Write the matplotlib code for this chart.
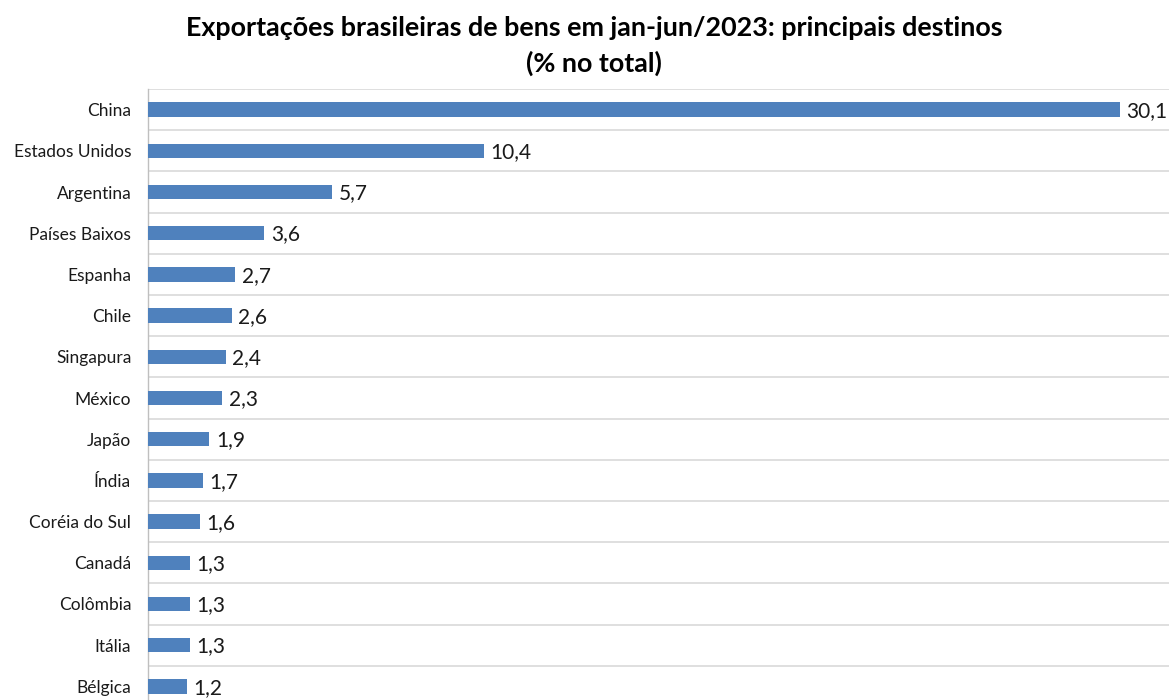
import numpy as np
import matplotlib

matplotlib.use("Agg")
import matplotlib.pyplot as plt
from matplotlib.ticker import FixedLocator

plt.rcParams["font.family"] = ["Lato", "DejaVu Sans"]

PAISES = [
    "China", "Estados Unidos", "Argentina", "Países Baixos", "Espanha",
    "Chile", "Singapura", "México", "Japão", "Índia", "Coréia do Sul",
    "Canadá", "Colômbia", "Itália", "Bélgica",
]
PARTICIPACAO = [30.1, 10.4, 5.7, 3.6, 2.7, 2.6, 2.4, 2.3, 1.9, 1.7, 1.6, 1.3, 1.3, 1.3, 1.2]

BAR_COLOR = "#4F81BD"
GRID_COLOR = "#D9D9D9"


def fmt(v):
    return f"{v:.1f}".replace(".", ",")


def main():
    fig = plt.figure(figsize=(11.69, 7.0), dpi=100)
    # axes runs off the bottom/right edge, like the cropped original
    ax = fig.add_axes([148 / 1169, 1 - 707 / 700, 1 - 148 / 1169, (707 - 89) / 700])

    y = np.arange(len(PAISES))
    ax.barh(y, PARTICIPACAO, height=0.35, color=BAR_COLOR, zorder=3)
    for yi, v in zip(y, PARTICIPACAO):
        ax.text(v + 0.2, yi + 0.03, fmt(v), va="center", ha="left", fontsize=15,
                color="#1a1a1a", zorder=4)

    ax.set_xlim(0, 1021 / (972 / 30.1))
    ax.set_ylim(len(PAISES) - 0.5, -0.5)
    ax.set_yticks(y)
    ax.set_yticklabels(PAISES, fontsize=12.5, color="#1a1a1a")
    ax.yaxis.set_minor_locator(FixedLocator(np.arange(-0.5, len(PAISES), 1.0)))
    ax.tick_params(axis="y", which="both", length=0, pad=12)
    ax.set_xticks([])
    ax.grid(axis="y", which="minor", color=GRID_COLOR, linewidth=1.2, zorder=0)

    for s in ("top", "right", "bottom"):
        ax.spines[s].set_visible(False)
    ax.spines["left"].set_color("#BFBFBF")
    ax.spines["left"].set_linewidth(1.0)

    fig.text(0.508, 1 - 28 / 700, "Exportações brasileiras de bens em jan-jun/2023: principais destinos",
             ha="center", va="center", fontsize=19.4, fontweight="bold", color="#000000")
    fig.text(0.508, 1 - 63 / 700, "(% no total)",
             ha="center", va="center", fontsize=19.4, fontweight="bold", color="#000000")

    fig.savefig("out.png", dpi=100)
    plt.close(fig)


if __name__ == "__main__":
    main()
